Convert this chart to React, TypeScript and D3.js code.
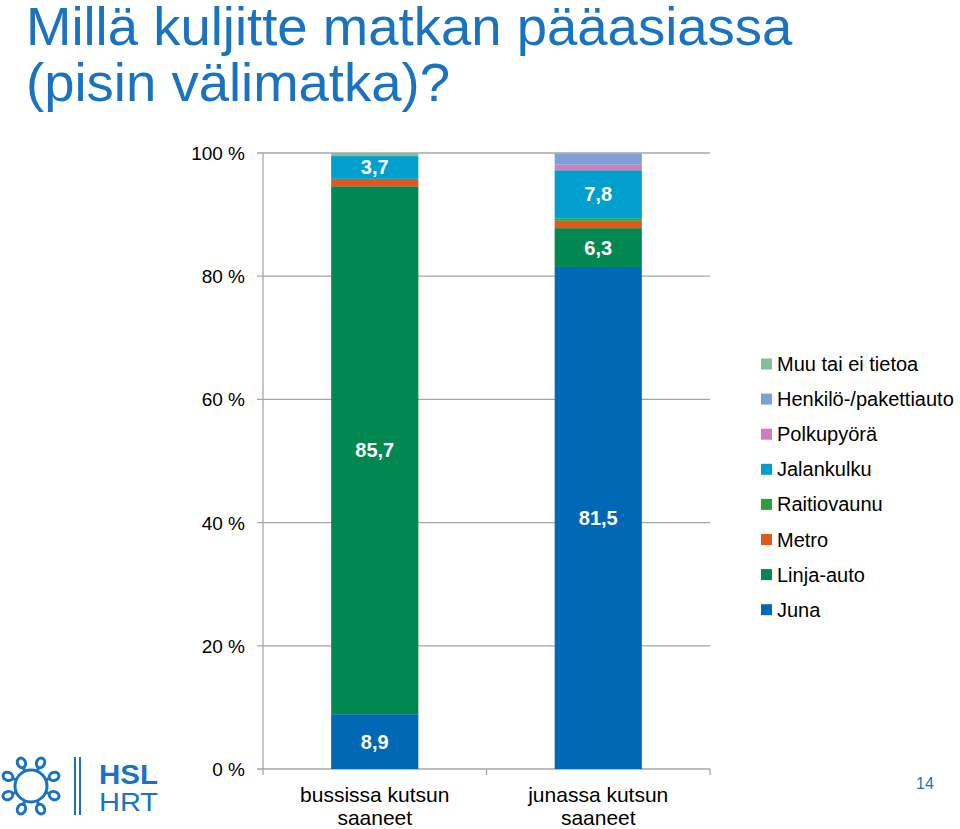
import React from "react";
import * as d3 from "d3";

const categories = ["bussissa kutsun saaneet", "junassa kutsun saaneet"];
const seriesNames = [
  "Juna",
  "Linja-auto",
  "Metro",
  "Raitiovaunu",
  "Jalankulku",
  "Polkupyörä",
  "Henkilö-/pakettiauto",
  "Muu tai ei tietoa",
];
const seriesColors = [
  "#0068b4",
  "#008850",
  "#e2581c",
  "#2e9f3e",
  "#009fce",
  "#d67bb9",
  "#7f9fd5",
  "#86bca0",
];
// values per category, in series order
const busValues = [8.9, 85.7, 1.2, 0, 3.7, 0, 0, 0.5];
const trainValues = [81.5, 6.3, 1.2, 0.4, 7.8, 0.9, 1.8, 0.1];
const yTicks = [0, 20, 40, 60, 80, 100];
const labelThreshold = 3;

export default function App() {
  const W = 960;
  const H = 829;
  const left = 263;
  const right = 710;
  const top = 153;
  const bottom = 769;

  const x = d3.scaleBand<string>().domain(categories).range([left, right]).paddingInner(0.61).paddingOuter(0.305);
  const y = d3.scaleLinear().domain([0, 100]).range([bottom, top]);

  const table = categories.map((c, i) => {
    const vals = i === 0 ? busValues : trainValues;
    const o: any = { cat: c };
    seriesNames.forEach((s, j) => (o[s] = vals[j]));
    return o;
  });
  const stack = d3.stack<any>().keys(seriesNames)(table);

  const blue = "#1a73c0";
  const font = "'Liberation Sans', Arial, sans-serif";

  const cx = 31, cy = 786;
  const loops = d3.range(8).map((k) => (k * Math.PI * 2) / 8 + Math.PI / 8);

  const catCenters = [x(categories[0])! + x.bandwidth() / 2, x(categories[1])! + x.bandwidth() / 2];

  return (
    <svg width={W} height={H} style={{ position: "absolute", left: 0, top: 0, display: "block" }} fontFamily={font}>
      <rect width={W} height={H} fill="#ffffff" />
      <text x={26} y={45} fontSize={54.5} fill={blue}>Millä kuljitte matkan pääasiassa</text>
      <text x={26} y={101} fontSize={54.5} fill={blue}>(pisin välimatka)?</text>

      {yTicks.map((t) => (
        <g key={t}>
          <line x1={257} x2={right} y1={y(t)} y2={y(t)} stroke="#a6a6a6" strokeWidth={1.3} />
          <text x={245} y={y(t) + 7} fontSize={19} textAnchor="end" fill="#000">{`${t} %`}</text>
        </g>
      ))}
      <line x1={left} x2={left} y1={top} y2={bottom} stroke="#a6a6a6" strokeWidth={1.3} />
      {[left, (left + right) / 2, right].map((tx, i) => (
        <line key={i} x1={tx} x2={tx} y1={bottom} y2={bottom + 6} stroke="#a6a6a6" strokeWidth={1.3} />
      ))}

      {stack.map((layer, si) => (
        <g key={layer.key} fill={seriesColors[si]}>
          {layer.map((d, ci) => {
            const h = y(d[0]) - y(d[1]);
            if (h <= 0) return null;
            return <rect key={ci} x={x(categories[ci])} y={y(d[1])} width={x.bandwidth()} height={h} />;
          })}
        </g>
      ))}
      {stack.map((layer) =>
        layer.map((d, ci) => {
          const v = d[1] - d[0];
          if (v < labelThreshold) return null;
          return (
            <text
              key={layer.key + ci}
              x={catCenters[ci]}
              y={(y(d[0]) + y(d[1])) / 2 + 7}
              textAnchor="middle"
              fontSize={20}
              fontWeight="bold"
              fill="#fff"
            >
              {v.toFixed(1).replace(".", ",")}
            </text>
          );
        })
      )}

      {categories.map((c, i) => {
        const words = c.split(" ");
        const l1 = words.slice(0, 2).join(" ");
        const l2 = words.slice(2).join(" ");
        return (
          <g key={c}>
            <text x={catCenters[i]} y={802} fontSize={21} textAnchor="middle" fill="#000">{l1}</text>
            <text x={catCenters[i]} y={825} fontSize={21} textAnchor="middle" fill="#000">{l2}</text>
          </g>
        );
      })}

      {seriesNames
        .slice()
        .reverse()
        .map((s, i) => {
          const si = seriesNames.length - 1 - i;
          const ly = 364 + i * 35.1;
          return (
            <g key={s}>
              <rect x={761} y={ly - 5.5} width={11} height={11} fill={seriesColors[si]} />
              <text x={777} y={ly + 7} fontSize={20} fill="#000">{s}</text>
            </g>
          );
        })}

      <text x={925} y={789} fontSize={16} textAnchor="middle" fill={blue}>14</text>

      <g stroke={blue} strokeWidth={3} fill="none">
        <circle cx={cx} cy={cy} r={16} />
        {loops.map((a, k) => {
          const r1 = 16, r2 = 25;
          const px = cx + Math.cos(a) * r2;
          const py = cy + Math.sin(a) * r2;
          return (
            <g key={k}>
              <line x1={cx + Math.cos(a) * r1} y1={cy + Math.sin(a) * r1} x2={cx + Math.cos(a) * (r2 - 4)} y2={cy + Math.sin(a) * (r2 - 4)} />
              <ellipse cx={px} cy={py} rx={4} ry={5} transform={`rotate(${(a * 180) / Math.PI + 90} ${px} ${py})`} fill="#fff" />
            </g>
          );
        })}
      </g>
      <line x1={75} x2={75} y1={757} y2={815} stroke={blue} strokeWidth={2} />
      <line x1={80} x2={80} y1={757} y2={815} stroke={blue} strokeWidth={2} />
      <text x={99} y={784} fontSize={27} fontWeight="bold" fill={blue} textLength={59} lengthAdjust="spacingAndGlyphs">HSL</text>
      <text x={99} y={811} fontSize={26} fill={blue} textLength={59} lengthAdjust="spacingAndGlyphs">HRT</text>
    </svg>
  );
}
